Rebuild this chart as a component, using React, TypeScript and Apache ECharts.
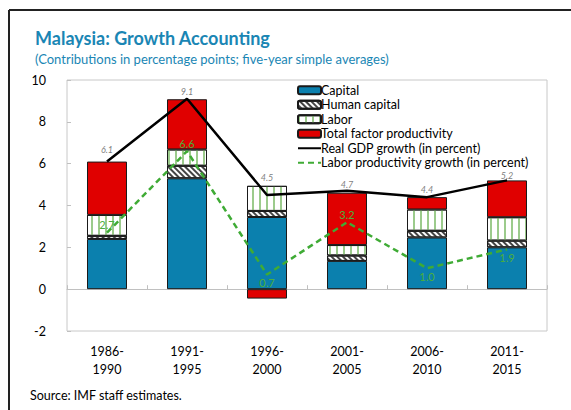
import React, { useEffect, useRef } from "react";
import * as echarts from "echarts";

const categories = ["1986-\n1990", "1991-\n1995", "1996-\n2000", "2001-\n2005", "2006-\n2010", "2011-\n2015"];
const capital = [2.4, 5.3, 3.45, 1.35, 2.47, 2.0];
const humanCapital = [0.15, 0.6, 0.29, 0.26, 0.32, 0.32];
const labor = [1.0, 0.78, 1.2, 0.5, 1.02, 1.12];
const tfp = [2.55, 2.4, -0.45, 2.5, 0.59, 1.76];
const gdpGrowth = [6.1, 9.1, 4.5, 4.7, 4.4, 5.2];
const laborProductivity = [2.7, 6.6, 0.7, 3.2, 1.0, 1.9];
const yTicks = { min: -2, max: 10, interval: 2 };

// label placement styles (not data)
const lpLabelPos = ["top", "top", "bottom", "top", "bottom", "bottom"];
const gdpLabelDist = [7, 2, 13, 1, 3, 0];

const FONT = "Lato, 'Noto Sans', sans-serif";
const TEAL = "#1a86b4";

export default function App() {
  const ref = useRef<HTMLDivElement>(null);
  useEffect(() => {
    if (!ref.current) return;
    const chart = echarts.init(ref.current, undefined, { renderer: "svg" });
    const barBase = {
      type: "bar",
      stack: "total",
      barWidth: "50%",
      xAxisIndex: 0,
      yAxisIndex: 0,
    };
    const option: any = {
      animation: false,
      textStyle: { fontFamily: FONT },
      grid: {
        left: 67,
        top: 80,
        right: 24,
        bottom: 79,
        show: true,
        borderColor: "#c8c8c8",
        borderWidth: 1,
        backgroundColor: "transparent",
      },
      legend: {
        left: 292,
        top: 78,
        orient: "vertical",
        itemWidth: 23,
        itemHeight: 8,
        itemGap: 0,
        textStyle: {
          fontSize: 12.5,
          lineHeight: 14.5,
          color: "#000",
          fontFamily: FONT,
          padding: [0, 0, 0, -5],
        },
        data: [
          "Capital",
          "Human capital",
          "Labor",
          "Total factor productivity",
          "Real GDP growth (in percent)",
          "Labor productivity growth (in percent)",
        ],
      },
      xAxis: [
        {
          type: "category",
          data: categories,
          position: "bottom",
          axisLine: { show: false, onZero: false },
          axisTick: { show: false },
          axisLabel: { fontSize: 12.5, color: "#000", lineHeight: 18, margin: 11, fontFamily: FONT },
        },
        {
          type: "category",
          data: categories,
          position: "bottom",
          axisLine: { show: true, onZero: true, lineStyle: { color: "#c0c0c0", width: 1 } },
          axisTick: { show: true, inside: true, length: 4, lineStyle: { color: "#c0c0c0" } },
          axisLabel: { show: false },
        },
      ],
      yAxis: {
        type: "value",
        min: yTicks.min,
        max: yTicks.max,
        interval: yTicks.interval,
        axisLine: { show: false },
        axisTick: { show: true, inside: true, length: 4, lineStyle: { color: "#c0c0c0" } },
        splitLine: { show: false },
        axisLabel: { fontSize: 12.5, color: "#000", margin: 21, fontFamily: FONT },
      },
      series: [
        {
          ...barBase,
          name: "Capital",
          data: capital,
          itemStyle: { color: "#0b80ae", borderColor: "#1a1a1a", borderWidth: 1 },
        },
        {
          ...barBase,
          name: "Human capital",
          data: humanCapital,
          itemStyle: {
            color: "#ffffff",
            borderColor: "#1a1a1a",
            borderWidth: 1,
            decal: {
              symbol: "rect",
              symbolSize: 1,
              color: "#444444",
              dashArrayX: [2, 2],
              dashArrayY: [10, 0],
              rotation: -Math.PI / 4,
            },
          },
        },
        {
          ...barBase,
          name: "Labor",
          data: labor,
          itemStyle: {
            color: "#ffffff",
            borderColor: "#1a1a1a",
            borderWidth: 1,
            decal: {
              symbol: "rect",
              symbolSize: 1,
              color: "#9ccb8c",
              dashArrayX: [2, 5],
              dashArrayY: [10, 0],
              rotation: 0,
            },
          },
        },
        {
          ...barBase,
          name: "Total factor productivity",
          data: tfp,
          itemStyle: { color: "#e00000", borderColor: "#1a1a1a", borderWidth: 1 },
        },
        {
          type: "line",
          name: "Real GDP growth (in percent)",
          data: gdpGrowth.map((v, i) => ({
            value: v,
            label: { distance: gdpLabelDist[i] },
          })),
          symbol: "circle",
          symbolSize: 1,
          showSymbol: true,
          lineStyle: { color: "#000", width: 2.5 },
          itemStyle: { color: "rgba(0,0,0,0)", borderWidth: 0 },
          label: {
            show: true,
            position: "top",
            fontSize: 9,
            fontStyle: "italic",
            color: "#7f7f7f",
            formatter: (p: any) => Number(p.value).toFixed(1),
          },
          z: 5,
        },
        {
          type: "line",
          name: "Labor productivity growth (in percent)",
          data: laborProductivity.map((v, i) => ({
            value: v,
            label: { position: lpLabelPos[i] },
          })),
          symbol: "circle",
          symbolSize: 1,
          showSymbol: true,
          lineStyle: { color: "#3fab35", width: 2.5, type: [6, 4] },
          itemStyle: { color: "rgba(0,0,0,0)", borderWidth: 0 },
          label: {
            show: true,
            distance: 2,
            fontSize: 11,
            color: "#4caf3c",
            formatter: (p: any) => Number(p.value).toFixed(1),
          },
          z: 6,
        },
      ],
      graphic: [
        {
          type: "line",
          shape: { x1: 9, y1: 10, x2: 571, y2: 10 },
          style: { stroke: "#222", lineWidth: 2 },
        },
        {
          type: "line",
          shape: { x1: 9, y1: 10, x2: 9, y2: 410 },
          style: { stroke: "#222", lineWidth: 2 },
        },
        {
          type: "text",
          left: 35,
          top: 29,
          style: {
            text: "Malaysia: Growth Accounting",
            fontSize: 18,
            fontWeight: "bold",
            fill: TEAL,
            fontFamily: FONT,
          },
        },
        {
          type: "text",
          left: 35,
          top: 52,
          style: {
            text: "(Contributions in percentage points; five-year simple averages)",
            fontSize: 13,
            fill: TEAL,
            fontFamily: FONT,
          },
        },
        {
          type: "text",
          left: 30,
          top: 389,
          style: {
            text: "Source: IMF staff estimates.",
            fontSize: 12.5,
            fill: "#000",
            fontFamily: FONT,
          },
        },
      ],
    };
    chart.setOption(option);
    return () => chart.dispose();
  }, []);
  return (
    <div
      ref={ref}
      style={{ width: 571, height: 410, position: "absolute", left: 0, top: 0, background: "#fff" }}
    />
  );
}
